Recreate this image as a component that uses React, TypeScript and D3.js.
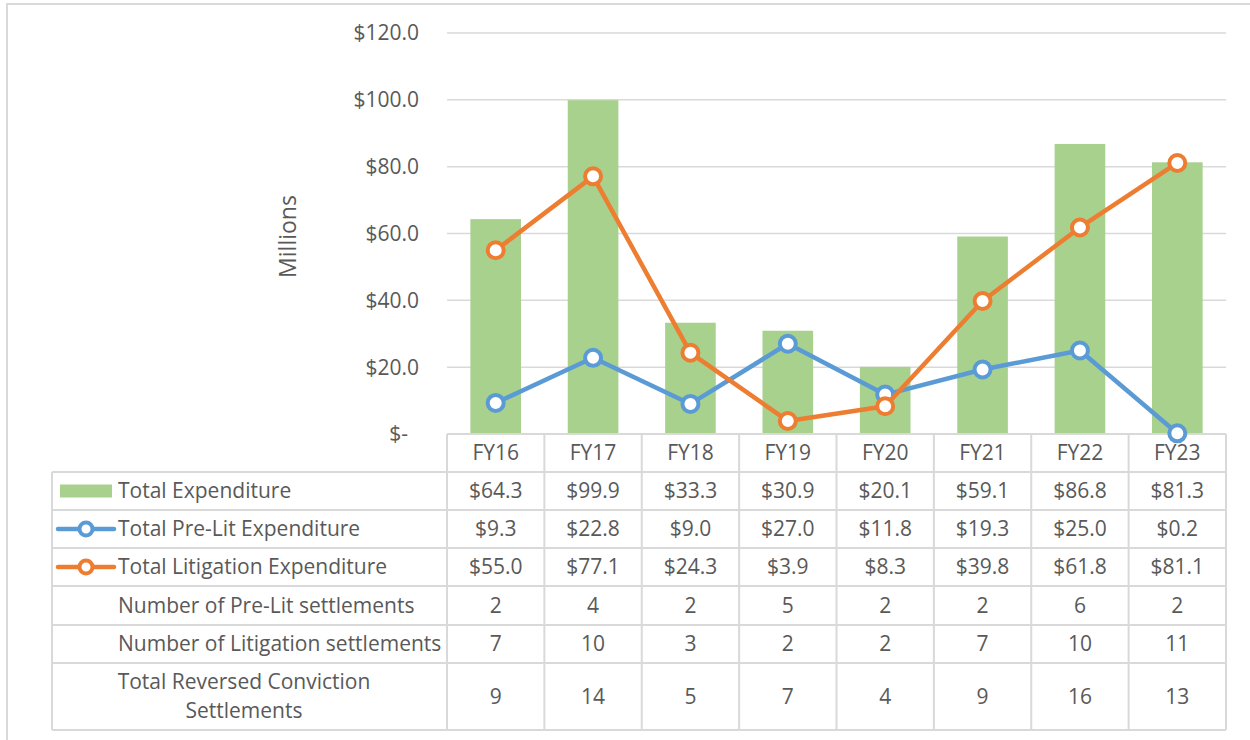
import React from "react";
import * as d3 from "d3";

// fiscal years
const years = ["FY16", "FY17", "FY18", "FY19", "FY20", "FY21", "FY22", "FY23"];

// $ millions
const totalExpenditure = [64.3, 99.9, 33.3, 30.9, 20.1, 59.1, 86.8, 81.3];
const preLitExpenditure = [9.3, 22.8, 9.0, 27.0, 11.8, 19.3, 25.0, 0.2];
const litigationExpenditure = [55.0, 77.1, 24.3, 3.9, 8.3, 39.8, 61.8, 81.1];

// counts
const preLitSettlements = [2, 4, 2, 5, 2, 2, 6, 2];
const litigationSettlements = [7, 10, 3, 2, 2, 7, 10, 11];
const reversedSettlements = [9, 14, 5, 7, 4, 9, 16, 13];

const yTicks = [0, 20, 40, 60, 80, 100, 120];

const W = 1250;
const H = 740;
const FONT = "'Open Sans', 'Liberation Sans', sans-serif";
const TEXT = "#595959";
const GRID = "#d9d9d9";
const GREEN = "#a9d18e";
const BLUE = "#5b9bd5";
const ORANGE = "#ed7d31";

const money = (v: number) => "$" + v.toFixed(1);

const App = () => {
  const left = 447;
  const right = 1226;
  const top = 33;
  const bottom = 434;

  const x = d3.scaleBand<string>().domain(years).range([left, right]).padding(0);
  const y = d3.scaleLinear().domain([0, 120]).range([bottom, top]);
  const barW = x.bandwidth() * 0.52;
  const cx = (d: string) => (x(d) as number) + x.bandwidth() / 2;

  const line = d3
    .line<number>()
    .x((_, i) => cx(years[i]))
    .y((v) => y(v));

  // table geometry
  const labelLeft = 52;
  const rowEdges = [434, 472, 510, 548, 586, 625, 663, 730];
  const rows = [
    { label: ["Total Expenditure"], values: totalExpenditure.map(money), key: "bar" },
    { label: ["Total Pre-Lit Expenditure"], values: preLitExpenditure.map(money), key: "blue" },
    { label: ["Total Litigation Expenditure"], values: litigationExpenditure.map(money), key: "orange" },
    { label: ["Number of Pre-Lit settlements"], values: preLitSettlements.map(String), key: "" },
    { label: ["Number of Litigation settlements"], values: litigationSettlements.map(String), key: "" },
    { label: ["Total Reversed Conviction", "Settlements"], values: reversedSettlements.map(String), key: "" },
  ];

  const series = [
    { values: preLitExpenditure, color: BLUE },
    { values: litigationExpenditure, color: ORANGE },
  ];

  const fs = 21;

  return (
    <svg
      width={W}
      height={H}
      style={{ position: "absolute", left: 0, top: 0, display: "block", background: "#fff" }}
      fontFamily={FONT}
    >
      <rect x={7} y={4} width={W} height={H} fill="#fff" stroke={GRID} strokeWidth={2} />

      {/* gridlines */}
      {yTicks.filter((t) => t > 0).map((t) => (
        <line key={t} x1={left} x2={right} y1={y(t)} y2={y(t)} stroke={GRID} strokeWidth={1.5} />
      ))}

      {/* y tick labels */}
      {yTicks.map((t) => (
        <text
          key={"yl" + t}
          x={t === 0 ? 408 : 419}
          y={y(t)}
          dy="0.35em"
          textAnchor="end"
          fontSize={fs}
          fill={TEXT}
        >
          {t === 0 ? "$-" : money(t)}
        </text>
      ))}

      <text
        transform={`translate(288,${(top + bottom) / 2 + 3}) rotate(-90)`}
        textAnchor="middle"
        dy="0.35em"
        fontSize={23}
        fill={TEXT}
      >
        Millions
      </text>

      {/* bars */}
      {years.map((d, i) => (
        <rect
          key={"b" + d}
          x={cx(d) - barW / 2}
          y={y(totalExpenditure[i])}
          width={barW}
          height={bottom - y(totalExpenditure[i])}
          fill={GREEN}
        />
      ))}

      {/* data table lines */}
      <g stroke={GRID} strokeWidth={2} fill="none">
        <line x1={left} x2={right} y1={rowEdges[0]} y2={rowEdges[0]} />
        {rowEdges.slice(1).map((e) => (
          <line key={"h" + e} x1={labelLeft} x2={right} y1={e} y2={e} />
        ))}
        <line x1={labelLeft} x2={labelLeft} y1={rowEdges[1]} y2={rowEdges[rowEdges.length - 1]} />
        {years.map((d) => (
          <line key={"v" + d} x1={x(d)} x2={x(d)} y1={rowEdges[0]} y2={rowEdges[rowEdges.length - 1]} />
        ))}
        <line x1={right} x2={right} y1={rowEdges[0]} y2={rowEdges[rowEdges.length - 1]} />
      </g>

      {/* lines + markers */}
      {series.map((s, si) => (
        <g key={"s" + si}>
          <path d={line(s.values) || ""} fill="none" stroke={s.color} strokeWidth={4.5} strokeLinejoin="round" />
          {s.values.map((v, i) => (
            <circle key={i} cx={cx(years[i])} cy={y(v)} r={8} fill="#fff" stroke={s.color} strokeWidth={4} />
          ))}
        </g>
      ))}

      {/* header row */}
      {years.map((d) => (
        <text
          key={"hd" + d}
          x={cx(d)}
          y={(rowEdges[0] + rowEdges[1]) / 2}
          dy="0.35em"
          textAnchor="middle"
          fontSize={fs}
          fill={TEXT}
        >
          {d}
        </text>
      ))}

      {/* table body */}
      {rows.map((r, ri) => {
        const y0 = rowEdges[ri + 1];
        const y1 = rowEdges[ri + 2];
        const mid = (y0 + y1) / 2;
        return (
          <g key={"r" + ri}>
            {r.key === "bar" && <rect x={60} y={mid - 6.5} width={52} height={13} fill={GREEN} />}
            {(r.key === "blue" || r.key === "orange") && (
              <g>
                <line
                  x1={58}
                  x2={114}
                  y1={mid}
                  y2={mid}
                  stroke={r.key === "blue" ? BLUE : ORANGE}
                  strokeWidth={4.5}
                  strokeLinecap="round"
                />
                <circle
                  cx={86}
                  cy={mid}
                  r={6.5}
                  fill="#fff"
                  stroke={r.key === "blue" ? BLUE : ORANGE}
                  strokeWidth={4}
                />
              </g>
            )}
            {r.label.length === 1 ? (
              <text x={118} y={mid} dy="0.35em" fontSize={fs} fill={TEXT}>
                {r.label[0]}
              </text>
            ) : (
              r.label.map((t, li) => (
                <text
                  key={li}
                  x={244}
                  y={mid + (li - 0.5) * 29}
                  dy="0.35em"
                  textAnchor="middle"
                  fontSize={fs}
                  fill={TEXT}
                >
                  {t}
                </text>
              ))
            )}
            {r.values.map((v, i) => (
              <text
                key={"c" + i}
                x={cx(years[i])}
                y={mid}
                dy="0.35em"
                textAnchor="middle"
                fontSize={fs}
                fill={TEXT}
              >
                {v}
              </text>
            ))}
          </g>
        );
      })}
    </svg>
  );
};

export default App;
